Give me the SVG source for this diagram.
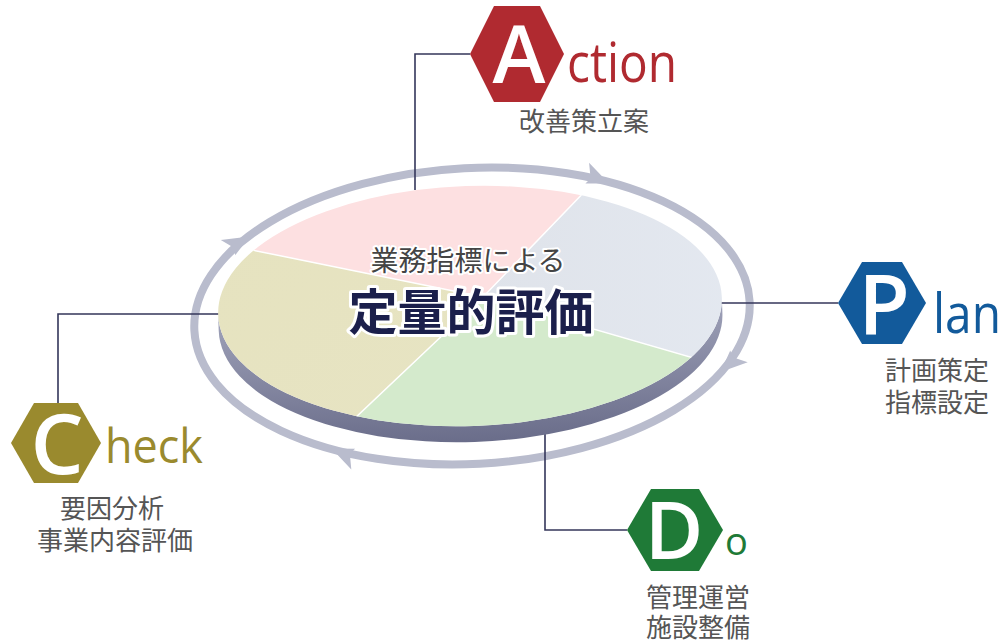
<svg xmlns="http://www.w3.org/2000/svg" xmlns:xlink="http://www.w3.org/1999/xlink" width="1007" height="644" viewBox="0 0 1007 644">
<style>
.conn{fill:none;stroke:#34365a;stroke-width:1.6}
.ring{fill:none;stroke:#b9bccd;stroke-width:8}
.arw{fill:#b9bccd}
.big{font-family:"Open Sans","Noto Sans",sans-serif;font-weight:600;fill:#fff;text-anchor:middle}
.lat{font-family:"Open Sans","Noto Sans",sans-serif;font-weight:500}
.jp{font-family:"Noto Sans CJK JP",sans-serif;fill:#555;font-size:26px;text-anchor:middle}
.sep{stroke:#fff;stroke-width:1.5;fill:none}
</style>
<defs>
<clipPath id="disk"><ellipse cx="470" cy="306" rx="252" ry="120" transform="rotate(-2 470 306)"/></clipPath>
<linearGradient id="side" x1="0" y1="0" x2="0" y2="1"><stop offset="0" stop-color="#a0a3ba"/><stop offset="1" stop-color="#6a6d8a"/></linearGradient>
<linearGradient id="blue" x1="0" y1="0" x2="1" y2="0"><stop offset="0" stop-color="#dfe3ea"/><stop offset="1" stop-color="#ecf2fb"/></linearGradient>
<linearGradient id="olive" x1="0" y1="0" x2="1" y2="1"><stop offset="0" stop-color="#e4e1bb"/><stop offset="1" stop-color="#e8e5c6"/></linearGradient>
<path id="ah" d="M14 1 L-10 -15 L-5 0 L-9 6 Z"/>
</defs>

<g id="cycle-ring" transform="rotate(-3 472 316)">
<ellipse class="ring" cx="472" cy="316" rx="278" ry="148"/>
<use xlink:href="#ah" class="arw" transform="translate(602.5 186.2) rotate(15.7)"/>
<use xlink:href="#ah" class="arw" transform="translate(727 374.8) rotate(129.5)"/>
<use xlink:href="#ah" class="arw" transform="translate(338 445.7) rotate(196.1)"/>
<use xlink:href="#ah" class="arw" transform="translate(242.2 232.7) rotate(-37.6)"/>
</g>

<g id="connectors">
<path class="conn" d="M415 190 V54 H470"/>
<path class="conn" d="M720 303 H838"/>
<path class="conn" d="M220 314 H58 V403"/>
<path class="conn" d="M545 422 V530 H627"/>
</g>

<g id="disk-center">
<g transform="rotate(-2 470 306)">
<path d="M218 306 A252 120 0 0 0 722 306 L722 322 A252 120 0 0 1 218 322 Z" fill="url(#side)"/>
</g>
<g clip-path="url(#disk)">
<polygon points="483,297 -220,154 -220,-200 780,-200 780,-11" fill="#fde0e1"/>
<polygon points="483,297 780,-11 1200,-11 1200,505" fill="url(#blue)"/>
<polygon points="483,297 1200,505 1200,700 57,700" fill="#d4eacc"/>
<polygon points="483,297 57,700 -220,700 -220,154" fill="url(#olive)"/>
<path class="sep" d="M483 297 L780 -11 M483 297 L1200 505 M483 297 L57 700 M483 297 L-220 154"/>
</g>
<text x="468" y="271" style="font-family:'Noto Sans CJK JP',sans-serif;font-size:28px;fill:#444;text-anchor:middle;stroke:#fff;stroke-width:4;paint-order:stroke;stroke-linejoin:round">業務指標による</text>
<text x="471" y="330" style="font-family:'Noto Sans CJK JP',sans-serif;font-size:49px;font-weight:700;fill:#1b1f4b;text-anchor:middle;stroke:#fff;stroke-width:6;paint-order:stroke;stroke-linejoin:round">定量的評価</text>
</g>

<g id="node-action">
<polygon points="470,54 494,6 540,6 564,54 540,102 494,102" fill="#b02a30"/>
<text class="big" x="519" y="83" font-size="80">A</text>
<text class="lat" x="567" y="82" font-size="54" fill="#b02a30" textLength="110" lengthAdjust="spacingAndGlyphs">ction</text>
<text class="jp" x="584" y="131">改善策立案</text>
</g>

<g id="node-plan">
<polygon points="838,303 862,262 902,262 926,303 902,344 862,344" fill="#125a9b"/>
<text class="big" x="884" y="334" font-size="84">P</text>
<text class="lat" x="933" y="333" font-size="54" fill="#125a9b" textLength="68" lengthAdjust="spacingAndGlyphs">lan</text>
<text class="jp" x="937" y="380" font-size="27">計画策定</text>
<text class="jp" x="937" y="412" font-size="27">指標設定</text>
</g>

<g id="node-check">
<polygon points="11,443 34,403 78,403 101,443 78,483 34,483" fill="#9a8a2e"/>
<text class="big" x="57" y="474" font-size="84">C</text>
<text class="lat" x="105" y="463" font-size="48" fill="#9a8a2e" textLength="98" lengthAdjust="spacingAndGlyphs">heck</text>
<text class="jp" x="112" y="518">要因分析</text>
<text class="jp" x="115" y="550">事業内容評価</text>
</g>

<g id="node-do">
<polygon points="627,530 651,489 699,489 723,530 699,571 651,571" fill="#1f7a37"/>
<text class="big" x="674" y="559" font-size="80">D</text>
<text class="lat" x="725" y="555" font-size="38" fill="#1f7a37">o</text>
<text class="jp" x="698" y="607">管理運営</text>
<text class="jp" x="698" y="637">施設整備</text>
</g>
</svg>
